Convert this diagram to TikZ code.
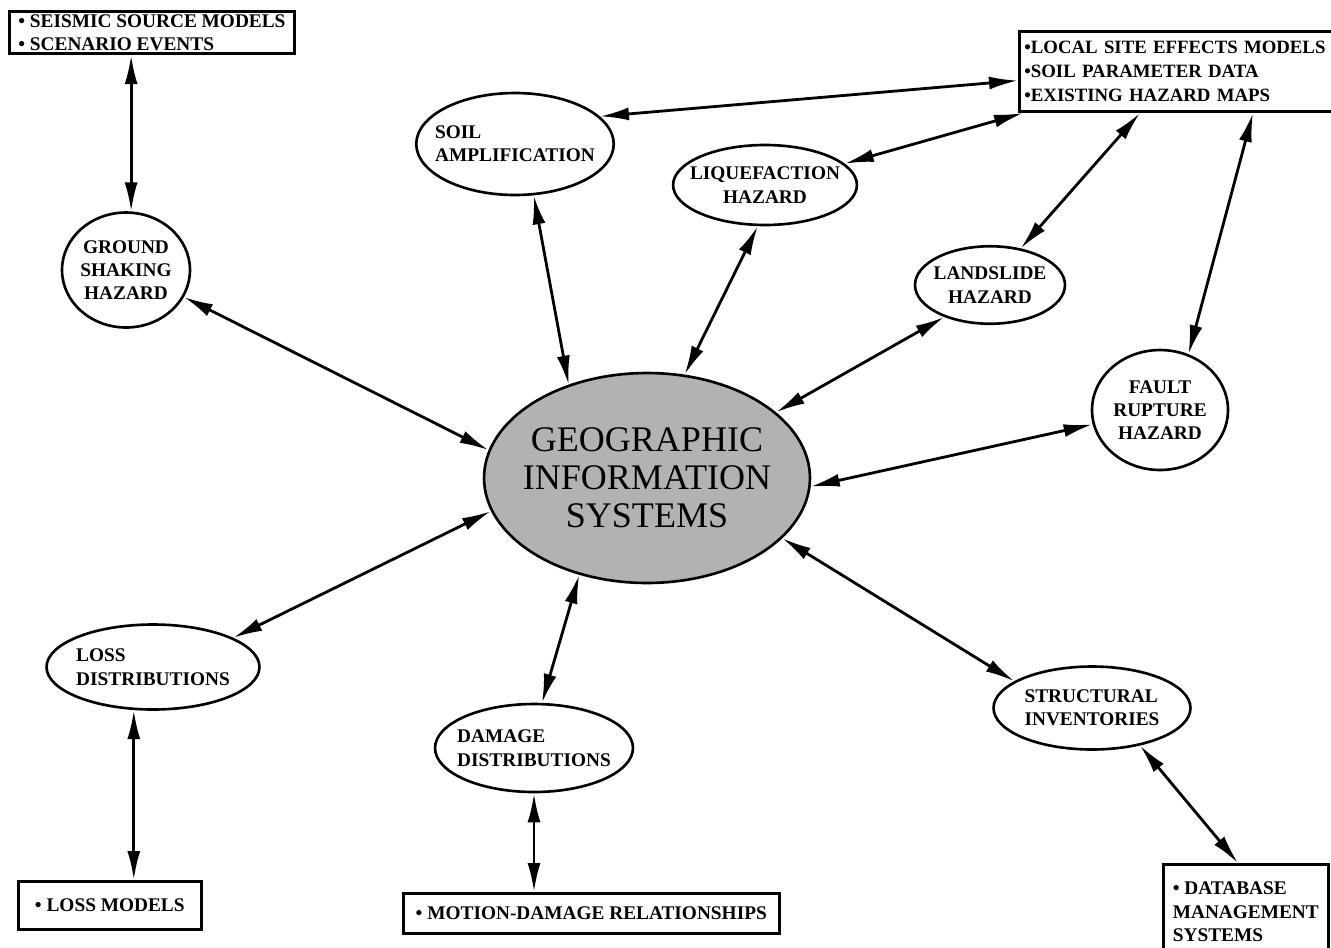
\documentclass[tikz,border=0pt]{standalone}
\usepackage{fontspec}
\setmainfont{Liberation Serif}
\usetikzlibrary{positioning, shapes.geometric, arrows.meta}

\begin{document}
\begin{tikzpicture}[
  x=0.02cm,
  y=-0.02cm,
  hazard/.style={
    ellipse,
    draw,
    line width=1.5pt,
    inner sep=-2mm,
    align=center,
    font=\fontsize{11}{13.3}\selectfont\bfseries,
  },
  infobox/.style={
    rectangle,
    draw,
    line width=1.5pt,
    align=left,
    inner xsep=1.8mm,
    inner ysep=0.6mm,
    font=\fontsize{11}{13.3}\selectfont\bfseries,
  },
  link/.style={draw, line width=1.6pt, {Latex[length=5.8mm,width=2.6mm]}-{Latex[length=5.8mm,width=2.6mm]}},
]
\useasboundingbox (0,0) rectangle (1331,947);

% centre
\node[hazard, fill=black!30, minimum width=6.52cm, minimum height=4.2cm,
  font=\fontsize{20.5}{21.5}\selectfont] (gis) at (647,478) {GEOGRAPHIC\\INFORMATION\\SYSTEMS};

% hazards
\node[hazard, minimum width=2.56cm, minimum height=2.3cm] (ground) at (126,270) {GROUND\\SHAKING\\HAZARD};
\node[hazard, align=left, minimum width=3.7cm, minimum height=2.04cm] (soil) at (515,144) {SOIL\\AMPLIFICATION};
\node[hazard, minimum width=3.5cm, minimum height=1.6cm] (liq) at (765,185) {LIQUEFACTION\\HAZARD};
\node[hazard, minimum width=3.0cm, minimum height=1.55cm] (land) at (990,285) {LANDSLIDE\\HAZARD};
\node[hazard, minimum width=2.72cm, minimum height=2.4cm] (fault) at (1160,410) {FAULT\\RUPTURE\\HAZARD};

% results
\node[hazard, align=left, minimum width=4.26cm, minimum height=1.7cm] (lossd) at (153,667) {LOSS\\DISTRIBUTIONS};
\node[hazard, align=left, minimum width=3.96cm, minimum height=1.76cm] (damage) at (534,748) {DAMAGE\\DISTRIBUTIONS};
\node[hazard, align=left, minimum width=3.94cm, minimum height=1.66cm] (struct) at (1092,708) {STRUCTURAL\\INVENTORIES};

% data boxes
\node[infobox, anchor=north west] (seismic) at (8,10) {• SEISMIC SOURCE MODELS\\• SCENARIO EVENTS};
\node[infobox, anchor=north west, inner xsep=1mm, inner ysep=2mm, text width=6.3cm,
  font=\fontsize{10.7}{13.6}\selectfont\bfseries] (local) at (1018,30) {•LOCAL SITE EFFECTS MODELS\\•SOIL PARAMETER DATA\\•EXISTING HAZARD MAPS};
\node[infobox, anchor=north west, minimum width=3.66cm, minimum height=0.96cm] (lossm) at (17,880) {• LOSS MODELS};
\node[infobox, anchor=north west, minimum width=7.52cm, minimum height=0.8cm] (motion) at (402,892) {• MOTION-DAMAGE RELATIONSHIPS};
\node[infobox, anchor=north west, inner xsep=1.5mm, minimum width=3.3cm, minimum height=1.9cm] (db) at (1162,863) {• DATABASE\\MANAGEMENT\\SYSTEMS};

% links
\draw[link] (ground.85 |- seismic.south) -- (ground.85);
\draw[link] (ground.-25) -- (gis.170);
\draw[link] (soil.-70) -- (gis.130);
\draw[link] (liq.-100) -- (gis.70);
\draw[link] (land.-145) -- (gis.27);
\draw[link] (fault.-168) -- (gis.-3);
\draw[link] (soil.18) -- ([yshift=-0.18cm]local.west);
\draw[link] (liq.15) -- ([xshift=0.1cm]local.south west);
\draw[link] (land.50) -- ([xshift=2.44cm]local.south west);
\draw[link] (fault.63) -- ([xshift=4.7cm]local.south west);
\draw[link] (lossd.20) -- (gis.-168);
\draw[link] (damage.80) -- (gis.-125);
\draw[link] (struct.161) -- (gis.-24);
\draw[link] (lossd.-114) -- (lossd.-114 |- lossm.north);
\draw[link] (damage.south) -- (damage.south |- motion.north);
\draw[link] (struct.-38) -- ([xshift=1.52cm]db.north west);
\end{tikzpicture}
\end{document}
